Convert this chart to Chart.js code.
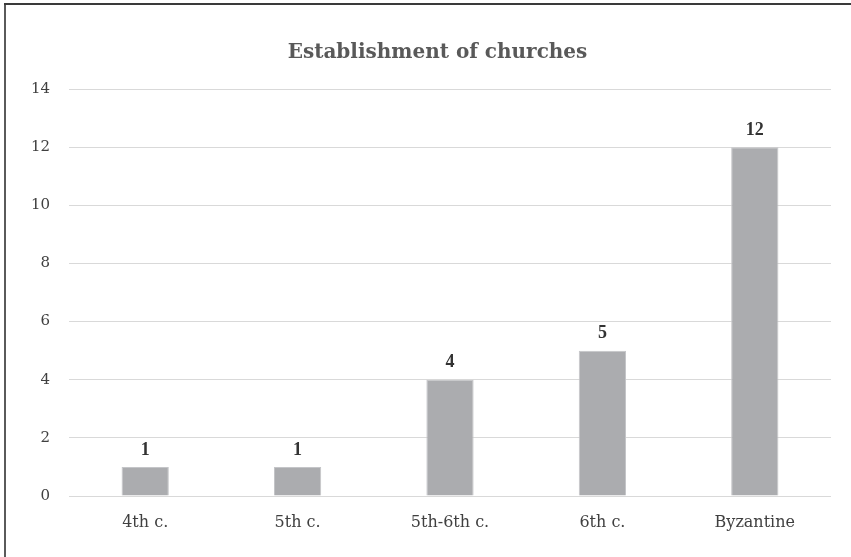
<!DOCTYPE html>
<html>
<head>
<meta charset="utf-8">
<script src="https://cdn.jsdelivr.net/npm/chart.js@4.4.1/dist/chart.umd.min.js"></script>
<style>
  html, body { margin: 0; padding: 0; background: #fff; }
  #wrap { position: relative; width: 851px; height: 557px; }
  #frameLeft { position: absolute; left: 4px; top: 3px; width: 2px; height: 554px; background: #5a5a5a; }
  #frameTop { position: absolute; left: 4px; top: 3px; width: 847px; height: 2px; background: #3a3a3a; }
</style>
</head>
<body>
<div id="wrap">
  <canvas id="c" width="851" height="557"></canvas>
  <div id="frameLeft"></div>
  <div id="frameTop"></div>
</div>
<script>
// Churches founded per period
const categories = ["4th c.", "5th c.", "5th-6th c.", "6th c.", "Byzantine"];
const churchCounts = [1, 1, 4, 5, 12];
const titleText = "Establishment of churches";

const SERIF = "'DejaVu Serif', 'Liberation Serif', serif";
const SERIF_NUM = "'Liberation Serif', 'DejaVu Serif', serif";

// Heading, centred over the whole figure (axis labels included)
const heading = {
  id: 'heading',
  afterDraw(chart) {
    const ctx = chart.ctx;
    const area = chart.chartArea;
    ctx.save();
    ctx.font = "bold 20px " + SERIF;
    ctx.fillStyle = "#595959";
    ctx.textAlign = "center";
    ctx.textBaseline = "middle";
    ctx.fillText(titleText, (area.right + 44) / 2, area.top - 36);
    ctx.restore();
  }
};

// Writes each bar's value just above it
const valueLabels = {
  id: 'valueLabels',
  afterDatasetsDraw(chart) {
    const ctx = chart.ctx;
    const meta = chart.getDatasetMeta(0);
    ctx.save();
    ctx.font = "bold 18px " + SERIF_NUM;
    ctx.fillStyle = "#333333";
    ctx.textAlign = "center";
    ctx.textBaseline = "middle";
    meta.data.forEach((bar, i) => {
      ctx.fillText(String(churchCounts[i]), bar.x, bar.y - 17);
    });
    ctx.restore();
  }
};

new Chart(document.getElementById('c'), {
  type: 'bar',
  data: {
    labels: categories,
    datasets: [{
      data: churchCounts,
      backgroundColor: '#ABACAF',
      borderColor: '#C4C5C8',
      borderWidth: 1,
      categoryPercentage: 1,
      barPercentage: 0.31
    }]
  },
  options: {
    responsive: false,
    animation: false,
    layout: { padding: { left: 0, right: 20, top: 89, bottom: 0 } },
    plugins: {
      legend: { display: false },
      tooltip: { enabled: false },
      title: { display: false }
    },
    scales: {
      x: {
        grid: { display: false, drawTicks: false },
        border: { display: false },
        ticks: { color: '#404040', font: { family: SERIF, size: 16 }, padding: 17 },
        afterFit(scale) { scale.height = 61; }
      },
      y: {
        min: 0,
        max: 14,
        grid: { color: '#D9D9D9', lineWidth: 1, drawTicks: false },
        border: { display: false },
        ticks: { stepSize: 2, color: '#404040', font: { family: SERIF, size: 15 }, padding: 19 },
        afterFit(scale) { scale.width = 69; }
      }
    }
  },
  plugins: [heading, valueLabels]
});
</script>
</body>
</html>
